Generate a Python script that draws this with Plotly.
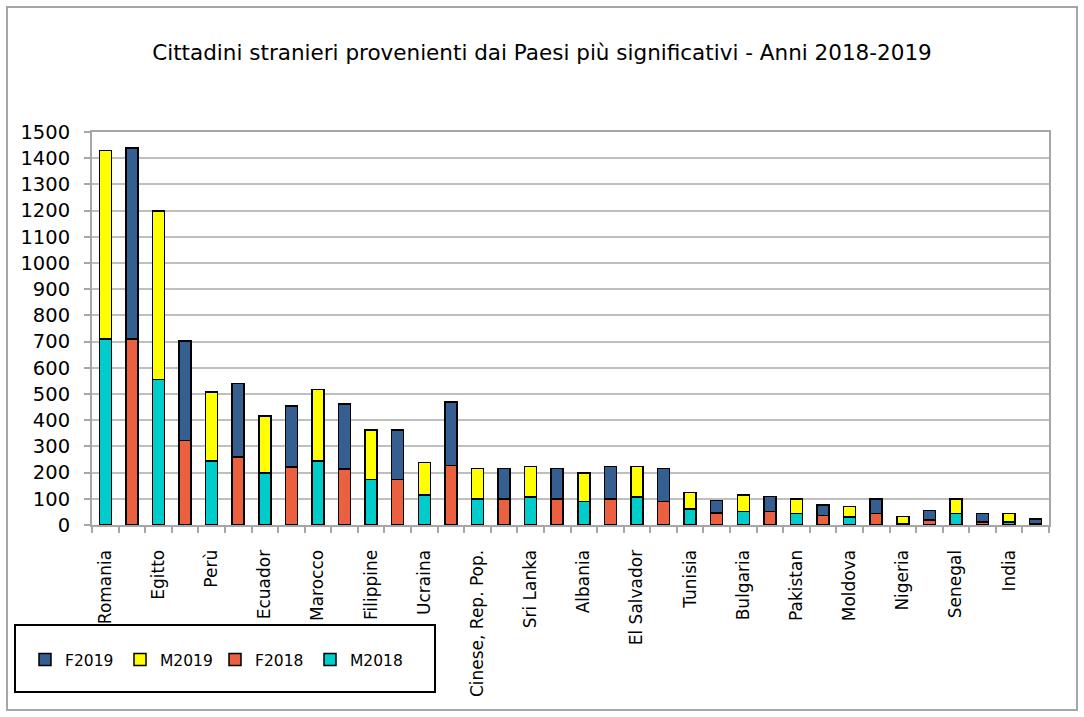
import plotly.graph_objects as go

countries = ["Romania", "Egitto", "Perù", "Ecuador", "Marocco", "Filippine", "Ucraina",
             "Cinese, Rep. Pop.", "Sri Lanka", "Albania", "El Salvador", "Tunisia",
             "Bulgaria", "Pakistan", "Moldova", "Nigeria", "Senegal", "India"]
m2018 = [710, 555, 245, 199, 245, 174, 114, 99, 106, 90, 106, 61, 51, 44, 30, 4, 44, 11]
m2019 = [720, 643, 263, 218, 272, 188, 124, 116, 117, 109, 117, 63, 63, 55, 40, 28, 55, 33]
f2018 = [710, 323, 260, 222, 213, 174, 228, 99, 99, 99, 89, 45, 51, 37, 44, 20, 11, 4]
f2019 = [728, 379, 280, 233, 248, 188, 242, 116, 116, 124, 126, 48, 57, 39, 55, 35, 33, 19]

n = len(countries)
xm = [2 * i for i in range(n)]
xf = [2 * i + 1 for i in range(n)]

colors = {"M2018": "#00CCCC", "F2018": "#EB6140", "M2019": "#FFFF00", "F2019": "#365F91"}
FONT = "DejaVu Sans"

fig = go.Figure()
for name, xs, ys in [("M2018", xm, m2018), ("F2018", xf, f2018),
                     ("M2019", xm, m2019), ("F2019", xf, f2019)]:
    fig.add_trace(go.Bar(x=xs, y=ys, name=name, width=0.45,
                         marker=dict(color=colors[name], line=dict(color="black", width=1.5))))

W, H = 1084, 717
L, R, T, B = 92, 35, 132, 192
pw, ph = W - L - R, H - T - B

def px_x(p):
    return (p - L) / pw

def px_y(p):
    return (H - B - p) / ph

fig.update_layout(
    width=W, height=H, barmode="stack",
    margin=dict(l=L, r=R, t=T, b=B, autoexpand=False),
    paper_bgcolor="white", plot_bgcolor="white",
    font=dict(family=FONT, color="black"),
    title=dict(text="Cittadini stranieri provenienti dai Paesi più significativi - Anni 2018-2019",
               x=0.5, xref="container", xanchor="center",
               y=1 - 52 / H, yref="container", yanchor="middle",
               font=dict(size=21.5, family=FONT, color="black")),
    showlegend=True,
    legend=dict(orientation="h", traceorder="reversed",
                x=px_x(25), y=px_y(660), xanchor="left", yanchor="middle",
                font=dict(size=15.5, family=FONT), entrywidth=50, itemwidth=30,
                bgcolor="rgba(0,0,0,0)"),
    xaxis=dict(range=[-0.5, 2 * n - 0.5], tickmode="array", tickvals=xm, ticktext=countries,
               tickangle=-90, ticks="", showgrid=False, zeroline=False, automargin=False,
               showline=True, linecolor="#A6A6A6", linewidth=2, mirror=True,
               tickfont=dict(size=17, family=FONT), ticklabelstandoff=16,
               minor=dict(tickmode="array", tickvals=[k - 0.5 for k in range(2 * n + 1)],
                          ticks="outside", ticklen=6, tickcolor="#A6A6A6", tickwidth=2,
                          showgrid=False)),
    yaxis=dict(range=[0, 1500], tickmode="linear", tick0=0, dtick=100, automargin=False,
               showgrid=True, gridcolor="#BFBFBF", gridwidth=2, zeroline=False,
               showline=True, linecolor="#A6A6A6", linewidth=2, mirror=True,
               ticks="outside", ticklen=6, tickcolor="#A6A6A6", tickwidth=2,
               ticklabelstandoff=10,
               tickfont=dict(size=19.5, family=FONT)),
    shapes=[
        dict(type="rect", xref="paper", yref="paper",
             x0=px_x(15), x1=px_x(435), y0=px_y(692), y1=px_y(625),
             line=dict(color="black", width=2), fillcolor="rgba(0,0,0,0)"),
        dict(type="rect", xref="paper", yref="paper",
             x0=px_x(7), x1=px_x(1077), y0=px_y(710), y1=px_y(7),
             line=dict(color="#A6A6A6", width=2), fillcolor="rgba(0,0,0,0)"),
    ],
)

fig.write_html("out.html", config={"displayModeBar": False},
               post_script="document.body.style.margin='0px';")
